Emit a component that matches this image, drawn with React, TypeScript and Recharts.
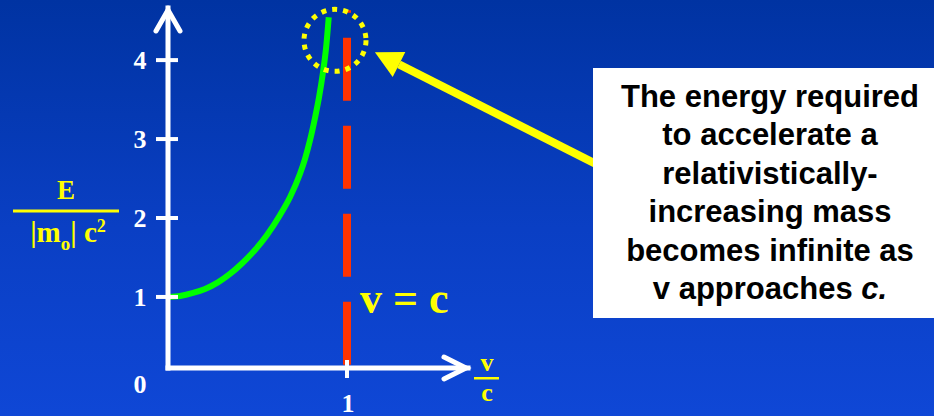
import { LineChart, Line, XAxis, YAxis, ReferenceLine, ReferenceDot } from "recharts";

// v/c along the curve and E / (|m0| c^2)
const speedRatio = [0, 0.067, 0.14, 0.207, 0.279, 0.346, 0.413, 0.486, 0.553, 0.626, 0.682, 0.737, 0.765, 0.793, 0.821, 0.844, 0.866, 0.883, 0.898];
const energyRatio = [1.0, 1.013, 1.051, 1.101, 1.184, 1.291, 1.424, 1.595, 1.785, 2.038, 2.266, 2.557, 2.747, 2.981, 3.266, 3.532, 3.848, 4.152, 4.544];
const yTicks = [0, 1, 2, 3, 4];
const xTicks = [1];

// axis extents (where the arrow tips sit) and annotation anchors, in data units
const X_MAX = 1.676;
const Y_MIN = 0.1;
const Y_MAX = 4.66;
const limitLine = [{ x: 1, y: 0.14 }, { x: 1, y: 4.63 }];
const circleAt = { x: 0.933, y: 4.25 };
const pointer = [{ x: 2.525, y: 2.53 }, { x: 1.156, y: 4.1 }];
const limitLabelAt = { x: 1, y: 0.8 };

const chartData = speedRatio.map((v, i) => ({ v, e: energyRatio[i] }));

const SERIF = "'Liberation Serif', 'Times New Roman', serif";
const SANS = "'Liberation Sans', Arial, sans-serif";
const YELLOW = "#ffff00";

const YTick = (props: any) => {
  const { x, y, payload } = props;
  const zero = payload.value === 0;
  return (
    <g>
      {!zero && <line x1={x - 12} x2={x + 10} y1={y} y2={y} stroke="#fff" strokeWidth={4} />}
      <text x={x - 28} y={y + (zero ? 17 : 9)} textAnchor="middle" fill="#fff"
        fontFamily={SERIF} fontWeight="bold" fontSize={26}>
        {payload.value}
      </text>
    </g>
  );
};

const XTick = (props: any) => {
  const { x, y, payload } = props;
  return (
    <g>
      <line x1={x} x2={x} y1={y - 8} y2={y + 10} stroke="#fff" strokeWidth={4} />
      <text x={x + 1} y={y + 44} textAnchor="middle" fill="#fff"
        fontFamily={SERIF} fontWeight="bold" fontSize={26}>
        {payload.value}
      </text>
    </g>
  );
};

const UpArrow = ({ cx, cy }: any) => (
  <polyline points={`${cx - 12},${cy + 23} ${cx},${cy + 2} ${cx + 12},${cy + 23}`}
    fill="none" stroke="#fff" strokeWidth={5} strokeLinecap="round" />
);

const RightArrow = ({ cx, cy }: any) => (
  <g>
    <polyline points={`${cx - 24},${cy - 11} ${cx - 2},${cy} ${cx - 24},${cy + 11}`}
      fill="none" stroke="#fff" strokeWidth={5} strokeLinecap="round" />
    <g fill={YELLOW} fontFamily={SERIF} fontWeight="bold" fontSize={26} textAnchor="middle">
      <text x={cx + 19} y={cy + 3}>v</text>
      <rect x={cx + 6} y={cy + 9} width={25} height={2.5} />
      <text x={cx + 19} y={cy + 33}>c</text>
    </g>
  </g>
);

const LimitLabel = ({ cx, cy }: any) => (
  <text x={cx + 13} y={cy} fill={YELLOW} fontFamily={SERIF} fontWeight="bold" fontSize={44}>
    v = c
  </text>
);

const Pointer = (props: any) => {
  const { x1, y1, x2, y2 } = props;
  const len = Math.hypot(x1 - x2, y1 - y2);
  const ux = (x1 - x2) / len;
  const uy = (y1 - y2) / len;
  const bx = x2 + ux * 27;
  const by = y2 + uy * 27;
  return (
    <g>
      <line x1={x1} y1={y1} x2={bx} y2={by} stroke={YELLOW} strokeWidth={8} />
      <polygon fill={YELLOW}
        points={`${x2},${y2} ${bx - uy * 14},${by + ux * 14} ${bx + uy * 14},${by - ux * 14}`} />
    </g>
  );
};

export default function App() {
  return (
    <div style={{
      position: "absolute", left: 0, top: 0, width: 934, height: 416, overflow: "hidden",
      background: "linear-gradient(180deg, #0033a2 0%, #0a3fc4 55%, #0f47d6 100%)",
    }}>
      <LineChart width={934} height={416} data={chartData}
        margin={{ top: 8, right: 466, bottom: 8, left: 108 }}>
        <XAxis dataKey="v" type="number" domain={[0, X_MAX]} ticks={xTicks} height={40}
          axisLine={{ stroke: "#fff", strokeWidth: 5, strokeLinecap: "square" }}
          tickLine={false} tickSize={0} tickMargin={0} tick={<XTick />} allowDataOverflow />
        <YAxis type="number" domain={[Y_MIN, Y_MAX]} ticks={yTicks} width={60}
          axisLine={{ stroke: "#fff", strokeWidth: 5, strokeLinecap: "square" }}
          tickLine={false} tickSize={0} tickMargin={0} tick={<YTick />} allowDataOverflow />
        <ReferenceLine segment={limitLine} stroke="#ff3300" strokeWidth={8}
          strokeDasharray="63 25" ifOverflow="visible" />
        <Line dataKey="e" type="monotone" stroke="#00ff00" strokeWidth={6} dot={false}
          isAnimationActive={false} />
        <ReferenceDot x={circleAt.x} y={circleAt.y} r={31} fill="none" stroke={YELLOW}
          strokeWidth={5} strokeDasharray="5 6" ifOverflow="visible" />
        <ReferenceLine segment={pointer} shape={<Pointer />} ifOverflow="visible" />
        <ReferenceDot x={0} y={Y_MAX} r={0} shape={<UpArrow />} ifOverflow="visible" />
        <ReferenceDot x={X_MAX} y={Y_MIN} r={0} shape={<RightArrow />} ifOverflow="visible" />
        <ReferenceDot x={limitLabelAt.x} y={limitLabelAt.y} r={0} shape={<LimitLabel />}
          ifOverflow="visible" />
      </LineChart>

      <svg width={130} height={100} style={{ position: "absolute", left: 0, top: 170 }}>
        <g fill={YELLOW} fontFamily={SERIF} fontWeight="bold">
          <text x={66} y={29} textAnchor="middle" fontSize={27}>E</text>
          <rect x={13} y={39.5} width={106} height={3} />
          <text x={68} y={72} textAnchor="middle" fontSize={29}>
            |m<tspan fontSize={19} dy={8}>o</tspan>
            <tspan dy={-8}>| c</tspan>
            <tspan fontSize={18} dy={-10}>2</tspan>
          </text>
        </g>
      </svg>

      <div style={{
        position: "absolute", left: 593, top: 68, width: 341, height: 250,
        boxSizing: "border-box", paddingTop: 10, paddingLeft: 13, background: "#fff",
        color: "#000", fontFamily: SANS, fontWeight: "bold", fontSize: 31,
        lineHeight: "38.4px", textAlign: "center", whiteSpace: "nowrap",
      }}>
        The energy required<br />
        to accelerate a<br />
        relativistically-<br />
        increasing mass<br />
        becomes infinite as<br />
        v approaches <i>c.</i>
      </div>
    </div>
  );
}
